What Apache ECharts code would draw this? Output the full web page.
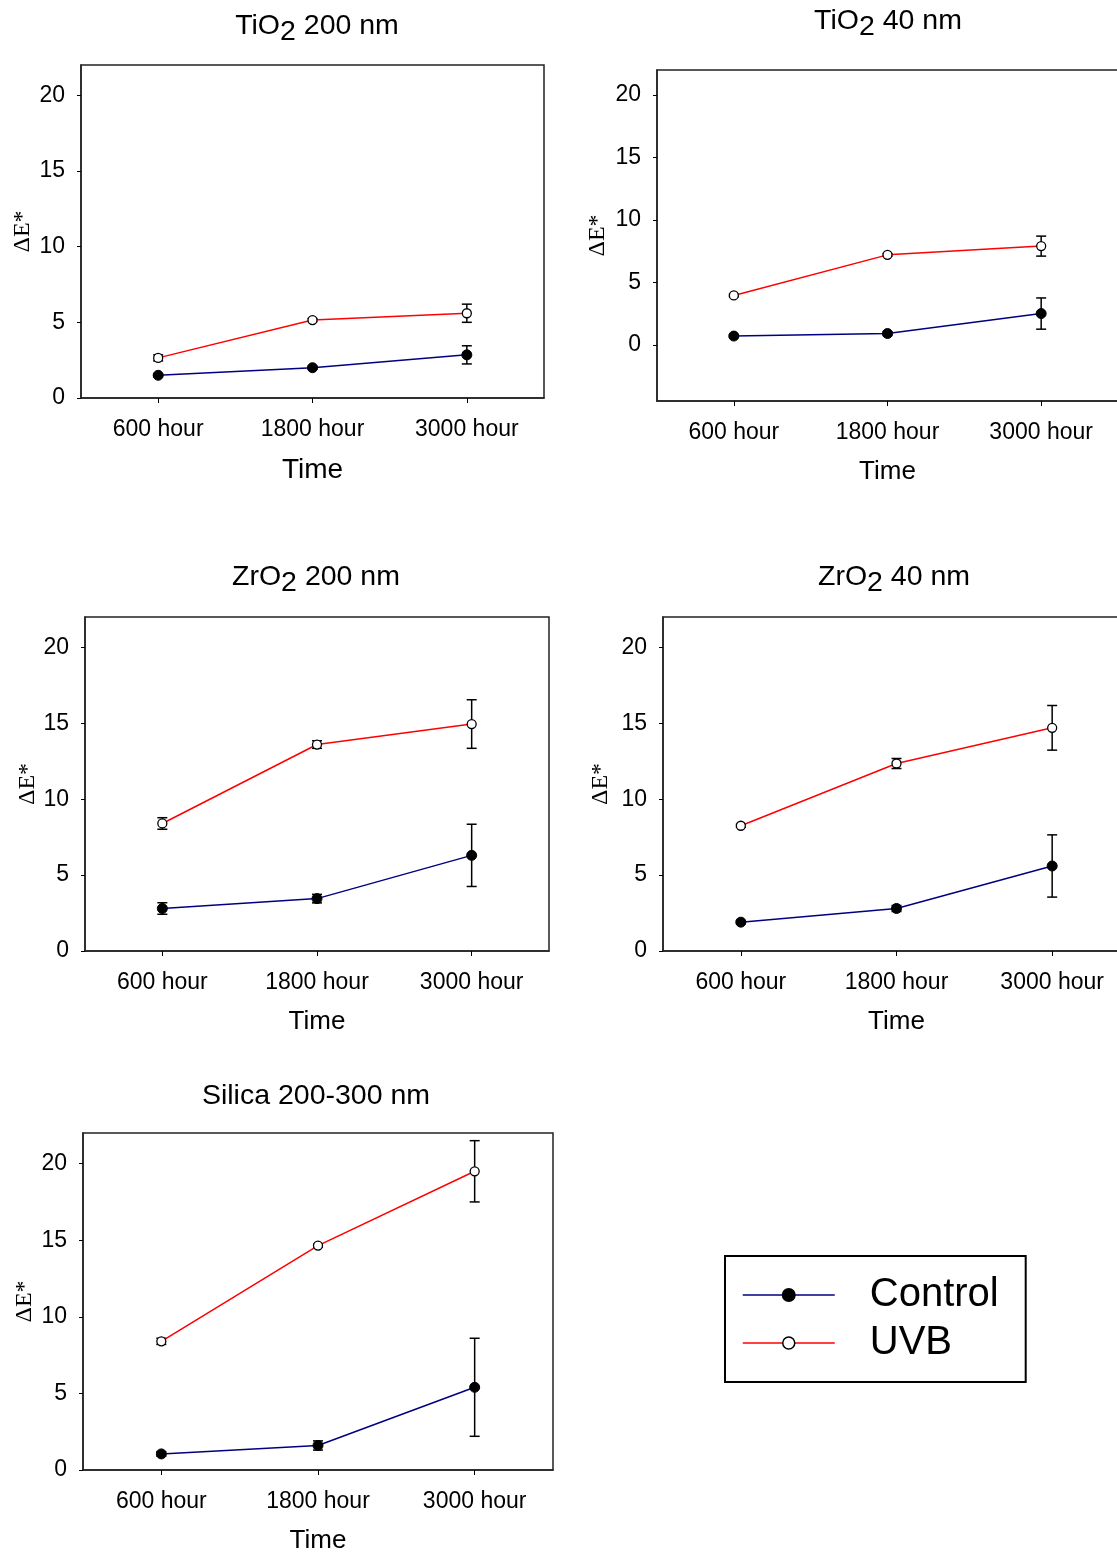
<!DOCTYPE html>
<html>
<head>
<meta charset="utf-8">
<script src="https://cdn.jsdelivr.net/npm/echarts@6/dist/echarts.min.js"></script>
<style>
  html, body { margin: 0; padding: 0; background: #fff; }
  #chart { width: 1117px; height: 1552px; }
</style>
</head>
<body>
<div id="chart"></div>
<script>
// Exposure times shared by all panels
const categories = ['600 hour', '1800 hour', '3000 hour'];
const yTicks = [0, 5, 10, 15, 20];
const seriesNames = ['Control', 'UVB'];

// ΔE* means and error (±) per panel
const tio2_200_control    = [1.5, 2.0, 2.85];
const tio2_200_controlErr = [0.1, 0.1, 0.6];
const tio2_200_uvb        = [2.65, 5.15, 5.6];
const tio2_200_uvbErr     = [0.2, 0.1, 0.6];

const tio2_40_control     = [0.7, 0.9, 2.5];
const tio2_40_controlErr  = [0.1, 0.15, 1.25];
const tio2_40_uvb         = [3.95, 7.2, 7.9];
const tio2_40_uvbErr      = [0.1, 0.1, 0.8];

const zro2_200_control    = [2.8, 3.45, 6.3];
const zro2_200_controlErr = [0.38, 0.28, 2.05];
const zro2_200_uvb        = [8.4, 13.6, 14.95];
const zro2_200_uvbErr     = [0.38, 0.25, 1.6];

const zro2_40_control     = [1.9, 2.8, 5.6];
const zro2_40_controlErr  = [0.1, 0.2, 2.05];
const zro2_40_uvb         = [8.25, 12.35, 14.7];
const zro2_40_uvbErr      = [0.1, 0.33, 1.47];

const silica_control      = [1.05, 1.6, 5.4];
const silica_controlErr   = [0.15, 0.3, 3.2];
const silica_uvb          = [8.4, 14.65, 19.5];
const silica_uvbErr       = [0.2, 0.1, 2.0];

// Panel titles: [before subscript, subscript, after subscript]
const titleParts = [
  ['TiO', '2', ' 200 nm'],
  ['TiO', '2', ' 40 nm'],
  ['ZrO', '2', ' 200 nm'],
  ['ZrO', '2', ' 40 nm'],
  ['Silica 200-300 nm', '', '']
];

const panelData = [
  { control: tio2_200_control, controlErr: tio2_200_controlErr, uvb: tio2_200_uvb, uvbErr: tio2_200_uvbErr },
  { control: tio2_40_control,  controlErr: tio2_40_controlErr,  uvb: tio2_40_uvb,  uvbErr: tio2_40_uvbErr },
  { control: zro2_200_control, controlErr: zro2_200_controlErr, uvb: zro2_200_uvb, uvbErr: zro2_200_uvbErr },
  { control: zro2_40_control,  controlErr: zro2_40_controlErr,  uvb: zro2_40_uvb,  uvbErr: zro2_40_uvbErr },
  { control: silica_control,   controlErr: silica_controlErr,   uvb: silica_uvb,   uvbErr: silica_uvbErr }
];

// Layout of each plot frame
const layout = [
  { left: 81,  top: 65,   width: 463, height: 333, yMin: 0,    titleX: 317, titleTop: 12,   yNameGap: 46, timeSize: 28 },
  { left: 657, top: 70,   width: 461, height: 331, yMin: -4.5, titleX: 888, titleTop: 7,    yNameGap: 47, timeSize: 26 },
  { left: 85,  top: 617,  width: 464, height: 334, yMin: 0,    titleX: 316, titleTop: 563,  yNameGap: 43, timeSize: 26 },
  { left: 663, top: 617,  width: 467, height: 334, yMin: 0,    titleX: 894, titleTop: 563,  yNameGap: 50, timeSize: 26 },
  { left: 83,  top: 1133, width: 470, height: 337, yMin: 0,    titleX: 316, titleTop: 1082, yNameGap: 46, timeSize: 26 }
];

const SANS = 'Liberation Sans, Arial, sans-serif';
const SERIF = 'Liberation Serif, Times New Roman, serif';
const CONTROL_LINE = '#000080';
const UVB_LINE = '#ff0000';

function errorBarItem(params, api) {
  const x = api.value(0);
  const lo = api.coord([x, api.value(1)]);
  const hi = api.coord([x, api.value(2)]);
  const half = 5;
  const style = { stroke: '#000', lineWidth: 1.5 };
  return {
    type: 'group',
    children: [
      { type: 'line', shape: { x1: lo[0], y1: lo[1], x2: hi[0], y2: hi[1] }, style },
      { type: 'line', shape: { x1: lo[0] - half, y1: lo[1], x2: lo[0] + half, y2: lo[1] }, style },
      { type: 'line', shape: { x1: hi[0] - half, y1: hi[1], x2: hi[0] + half, y2: hi[1] }, style }
    ]
  };
}

function errRows(means, errs) {
  return means.map((m, i) => [i, m - errs[i], m + errs[i]]);
}

const titles = [], grids = [], xAxes = [], yAxes = [], series = [];

layout.forEach((L, i) => {
  const [pre, sub, post] = titleParts[i];
  const text = sub ? `{n|${pre}}{s|${sub}}{n|${post}}` : `{n|${pre}}`;
  titles.push({
    text,
    left: L.titleX,
    top: L.titleTop,
    textAlign: 'center',
    padding: 0,
    textStyle: {
      fontWeight: 'normal',
      rich: {
        n: { fontSize: 28.5, lineHeight: 28, verticalAlign: 'top', fontWeight: 'normal', fontFamily: SANS, color: '#000' },
        s: { fontSize: 28.5, lineHeight: 40, verticalAlign: 'middle', fontWeight: 'normal', fontFamily: SANS, color: '#000' }
      }
    }
  });

  grids.push({
    left: L.left, top: L.top, width: L.width, height: L.height,
    show: true, borderColor: '#222', borderWidth: 1.5,
    backgroundColor: 'transparent',
    containLabel: false, outerBoundsMode: 'none'
  });

  xAxes.push({
    type: 'category', gridIndex: i, data: categories, boundaryGap: true,
    axisLine: { show: true, onZero: false, lineStyle: { color: '#222', width: 1.5 } },
    axisTick: { show: true, alignWithLabel: true, length: 5, lineStyle: { color: '#000' } },
    axisLabel: { margin: 20, fontSize: 23, color: '#000', fontFamily: SANS },
    splitLine: { show: false },
    name: 'Time', nameLocation: 'middle', nameGap: 58,
    nameTextStyle: { fontSize: L.timeSize, color: '#000', fontFamily: SANS }
  });

  yAxes.push({
    type: 'value', gridIndex: i, min: L.yMin, max: 22,
    axisLine: { show: true, onZero: false, lineStyle: { color: '#222', width: 1.5 } },
    axisTick: { show: true, length: 4, customValues: yTicks, lineStyle: { color: '#000' } },
    axisLabel: { margin: 16, fontSize: 23, color: '#000', fontFamily: SANS, customValues: yTicks },
    splitLine: { show: false },
    name: 'ΔE*', nameLocation: 'middle', nameRotate: 90, nameGap: L.yNameGap,
    nameTextStyle: { fontSize: 24, color: '#000', fontFamily: SERIF }
  });

  const d = panelData[i];
  // error bars sit underneath the lines and markers
  series.push({
    type: 'custom', xAxisIndex: i, yAxisIndex: i, z: 1, clip: false,
    renderItem: errorBarItem, encode: { x: 0, y: [1, 2] },
    data: errRows(d.control, d.controlErr)
  });
  series.push({
    type: 'custom', xAxisIndex: i, yAxisIndex: i, z: 1, clip: false,
    renderItem: errorBarItem, encode: { x: 0, y: [1, 2] },
    data: errRows(d.uvb, d.uvbErr)
  });
  series.push({
    name: seriesNames[0], type: 'line', xAxisIndex: i, yAxisIndex: i, z: 3,
    data: d.control, symbol: 'circle', symbolSize: 10,
    lineStyle: { color: CONTROL_LINE, width: 1.5 },
    itemStyle: { color: '#000', borderColor: '#000', borderWidth: 1 }
  });
  series.push({
    name: seriesNames[1], type: 'line', xAxisIndex: i, yAxisIndex: i, z: 3,
    data: d.uvb, symbol: 'circle', symbolSize: 9,
    lineStyle: { color: UVB_LINE, width: 1.5 },
    itemStyle: { color: '#fff', borderColor: '#000', borderWidth: 1.3 }
  });
});

const chart = echarts.init(document.getElementById('chart'), null, { renderer: 'canvas' });
chart.setOption({
  animation: false,
  backgroundColor: '#fff',
  textStyle: { fontFamily: SANS },
  title: titles,
  grid: grids,
  xAxis: xAxes,
  yAxis: yAxes,
  legend: {
    orient: 'vertical', left: 725, top: 1256,
    padding: [19, 27, 19, 17],
    borderColor: '#000', borderWidth: 2,
    itemWidth: 92, itemHeight: 15, itemGap: 8,
    selectedMode: false,
    textStyle: { fontSize: 40, lineHeight: 40, color: '#000', fontFamily: SANS, padding: [0, 0, 0, 30] },
    data: [
      { name: seriesNames[0], itemStyle: { color: '#000', borderColor: '#000' }, lineStyle: { color: CONTROL_LINE, width: 1.5 } },
      { name: seriesNames[1], itemStyle: { color: '#fff', borderColor: '#000', borderWidth: 1.5 }, lineStyle: { color: UVB_LINE, width: 1.5 } }
    ]
  },
  series
});
</script>
</body>
</html>
